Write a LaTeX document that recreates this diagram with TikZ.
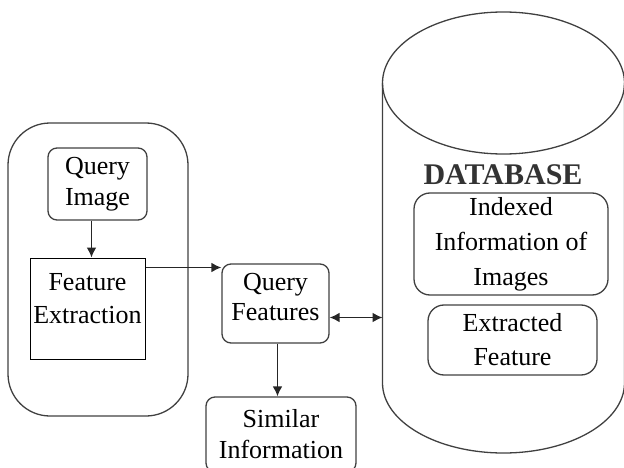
\documentclass[tikz,border=0pt]{standalone}
\usepackage{fontspec}
\setmainfont{Liberation Serif}
\usepackage{tikz}
\usetikzlibrary{arrows.meta,positioning,calc}
\tikzset{>={Latex[length=10pt,width=10pt]}}
\tikzset{
  box/.style={draw=black!75, line width=1.3pt, rounded corners=9pt, align=center,
    inner sep=0pt, font=\fontsize{26}{31}\selectfont},
  sqbox/.style={box, draw=black, line width=1pt, rounded corners=0pt},
  dbbox/.style={box, rounded corners=16pt},
  flow/.style={line width=1.8pt, black!85}
}

\begin{document}
\begin{tikzpicture}[x=1pt,y=-1pt]
    \useasboundingbox (0,0) rectangle (624,468);
    \clip (0,0) rectangle (624,468);
    % client side
    \node [box, rounded corners=42pt, minimum width=180, minimum height=293] (client) at (98,269.5) {};
    \node [box, minimum width=99, minimum height=72] (qimg) at (97.5,184) {Query\\Image};
    \node [sqbox, minimum width=115, minimum height=101, font=\fontsize{26}{33}\selectfont] (fext) at (87.5,308.5) {Feature\\Extraction\\[-12pt]~};
    \node [box, minimum width=107, minimum height=79, font=\fontsize{26}{30}\selectfont] (qfeat) at (275.5,303.5) {Query\\Features\\[-16pt]~};
    \node [box, minimum width=150, minimum height=75] (sim) at (281,434.5) {Similar\\Information};
    % database cylinder
    \draw [line width=1.3pt, black!75] (503.5,83) ellipse [x radius=121pt, y radius=71pt];
    \draw [line width=1.3pt, black!75] (382.5,83) -- (382.5,383) arc [start angle=180, end angle=360, x radius=121pt, y radius=70pt] -- (624.5,83);
    \coordinate (dbleft) at (382.5,289);
    \node [font=\fontsize{30}{34}\selectfont\bfseries, black!80] (dbname) at (503,175) {DATABASE};
    \node [dbbox, minimum width=194, minimum height=102, font=\fontsize{26}{35}\selectfont] (idx) at (511,244) {Indexed\\Information of\\Images};
    \node [dbbox, minimum width=169, minimum height=70, font=\fontsize{26}{34}\selectfont] (exf) at (512.5,340) {Extracted\\Feature};
    % connectors
    \draw [flow,->] ([xshift=-6pt]qimg.south) -- ([xshift=-6pt]qimg.south |- fext.north);
    \draw [flow,->] ([yshift=-10pt]fext.north east) -- ([yshift=-10pt]fext.north east -| qfeat.west);
    \draw [flow,<->] ([yshift=-14pt]qfeat.east) -- ([yshift=-14pt]qfeat.east -| dbleft);
    \draw [flow,->] ([xshift=2pt]qfeat.south) -- ([xshift=2pt]qfeat.south |- sim.north);
\end{tikzpicture}
\end{document}
